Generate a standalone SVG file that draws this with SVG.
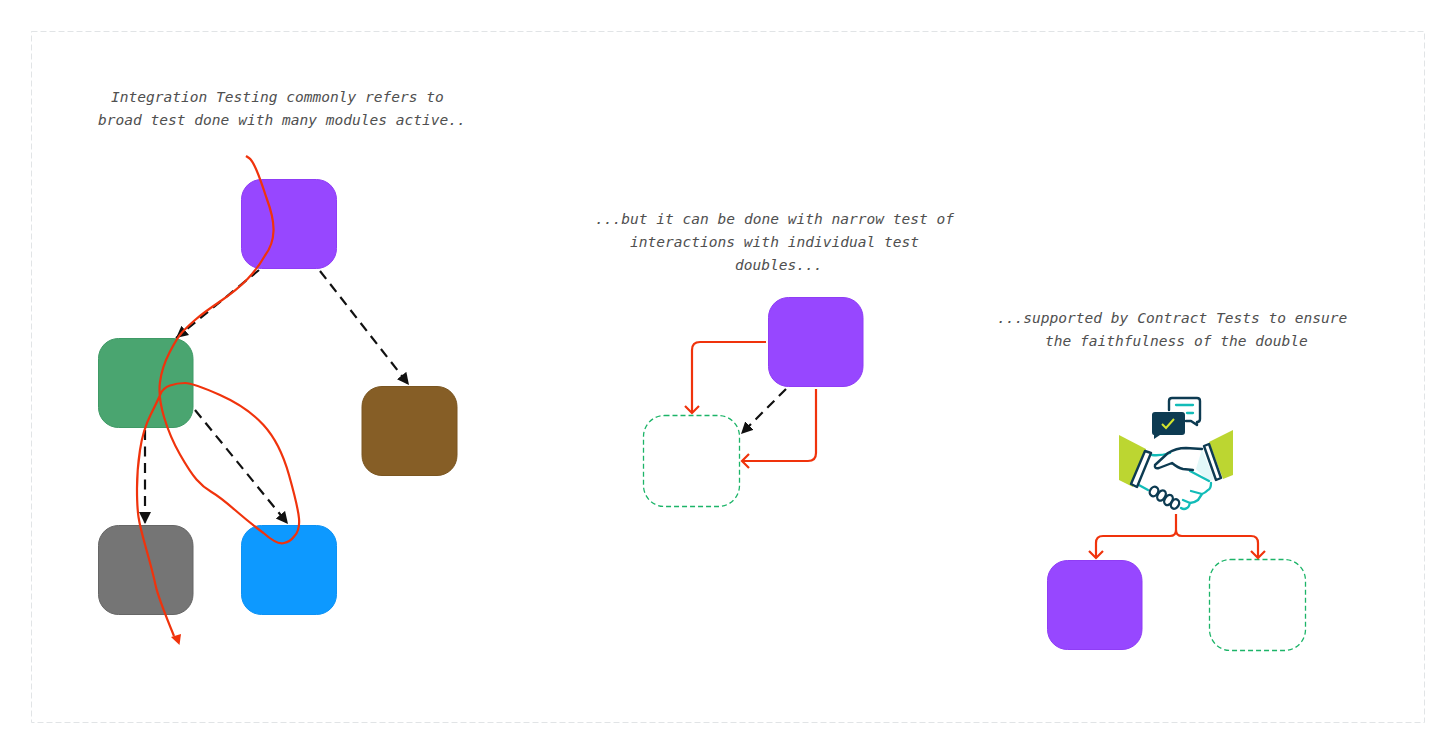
<svg xmlns="http://www.w3.org/2000/svg" width="1456" height="754" viewBox="0 0 1456 754">
<style>
.t{font-family:"DejaVu Sans Mono","Liberation Mono",monospace;font-style:italic;font-size:14.55px;fill:#505050}
.n{stroke-width:1}
.d{fill:#fff;stroke:#1cb468;stroke-width:1.3;stroke-dasharray:5 3}
.b{fill:none;stroke:#111;stroke-width:2.2;stroke-dasharray:10 6.500}
.r{fill:none;stroke:#f0330c;stroke-width:2.200;stroke-linejoin:round}
.nv{fill:none;stroke:#0d3b52;stroke-width:2.400;stroke-linejoin:round;stroke-linecap:round}
.tl{fill:none;stroke:#12bcb8;stroke-width:2.300;stroke-linecap:round;stroke-linejoin:round}
</style>
<defs>
<marker id="ab" markerUnits="userSpaceOnUse" markerWidth="14" markerHeight="14" refX="12" refY="7" orient="auto"><path d="M0 1L12 7L0 13Z" fill="#111"/></marker>
<marker id="ao" markerUnits="userSpaceOnUse" markerWidth="12" markerHeight="16" refX="8" refY="8" orient="auto"><path d="M1 1L8 8L1 15" fill="none" stroke="#f0330c" stroke-width="2.200"/></marker>
</defs>
<rect width="1456" height="754" fill="#fff"/>
<rect x="31.500" y="31.500" width="1393" height="691" fill="none" stroke="#e1e4e6" stroke-width="1" stroke-dasharray="6 3"/>
<g id="label-1"><text class="t" x="111" y="102">Integration Testing commonly refers to</text><text class="t" x="98" y="125">broad test done with many modules active..</text></g>
<g id="label-2"><text class="t" x="595" y="224">...but it can be done with narrow test of</text><text class="t" x="630" y="247">interactions with individual test</text><text class="t" x="735" y="270">doubles...</text></g>
<g id="label-3"><text class="t" x="997" y="323">...supported by Contract Tests to ensure</text><text class="t" x="1045" y="346">the faithfulness of the double</text></g>
<g id="node-purple-a"><rect class="n" x="241.500" y="179.500" width="95" height="89" rx="20" fill="#9747ff" stroke="#8f3df5"/></g>
<g id="node-green"><rect class="n" x="98.500" y="338.500" width="94.500" height="89" rx="20" fill="#4aa570" stroke="#3f9a66"/></g>
<g id="node-brown"><rect class="n" x="362" y="386.500" width="95" height="89" rx="20" fill="#865e26" stroke="#7a5520"/></g>
<g id="node-gray"><rect class="n" x="98.500" y="525.500" width="94.500" height="89" rx="20" fill="#757575" stroke="#666"/></g>
<g id="node-blue"><rect class="n" x="241.500" y="525.500" width="95" height="89" rx="20" fill="#0d99ff" stroke="#0d92f5"/></g>
<g id="node-purple-b"><rect class="n" x="768.500" y="297.500" width="94.500" height="89" rx="20" fill="#9747ff" stroke="#8f3df5"/></g>
<g id="node-double-b"><rect class="d" x="643.500" y="415.500" width="96" height="91" rx="21"/></g>
<g id="node-purple-c"><rect class="n" x="1047.500" y="560.500" width="94.500" height="89" rx="20" fill="#9747ff" stroke="#8f3df5"/></g>
<g id="node-double-c"><rect class="d" x="1209.500" y="559.500" width="96" height="91" rx="21"/></g>
<g id="connectors">
<path class="b" d="M259 270L176 338" marker-end="url(#ab)"/>
<path class="b" d="M320 271L409 385" marker-end="url(#ab)"/>
<path class="b" d="M195 410L288 524" marker-end="url(#ab)"/>
<path class="b" d="M145 430L145 524" marker-end="url(#ab)"/>
<path class="b" d="M786 389L741 434" marker-end="url(#ab)"/>
<path class="r" d="M766 342H700Q692 342 692 350V413" marker-end="url(#ao)"/>
<path class="r" d="M816 389V453Q816 461 808 461H742" marker-end="url(#ao)"/>
<path class="r" d="M1176 514V530Q1176 536 1170 536H1103Q1096 536 1096 543V558" marker-end="url(#ao)"/>
<path class="r" d="M1176 530Q1176 536 1182 536H1251Q1258 536 1258 543V558" marker-end="url(#ao)"/>
<path class="r" d="M246 156L249 158Q252 160 256 169Q260 178 266.500 198Q274 218 273.500 231Q273 245 265 255.500Q258 268 247.500 279Q237 290 220 301.500Q203 313 195 320Q187 327 182 332.500Q177 338 169.500 352.500Q162 367 160 382Q158 397 164 417Q170 437 180 454.500Q190 472 196.500 479.500Q203 487 211.500 492Q220 497 235 510Q250 523 263.500 533Q277 545 284 543Q290 542 294.500 536Q300 530 299 518.500Q298 507 289 475Q280 443 263.500 425Q247 407 220 395Q193 383 185 383Q177 383 170 385.500Q163 388 160.500 394Q158 400 150.500 415Q143 430 140 450Q137 470 137 488.500Q137 507 138.500 517Q140 527 146.500 550Q153 573 155.500 585Q158 597 174 636"/>
<path d="M171 637L181 634L179.500 645Z" fill="#f0330c"/>
</g>
<g id="handshake-icon">
<path d="M1119 435L1146 449L1133 487L1119 480Z" fill="#bcd631"/>
<path d="M1233 430L1209 442L1223 479L1233 475Z" fill="#bcd631"/>
<path d="M1202 449L1196 469L1209 482L1214 479Z" fill="#e2f8f9"/>
<path class="tl" d="M1152 455Q1160 456 1170 453M1190 471L1209 481M1137 484L1148 490"/>
<path class="tl" d="M1211 483Q1211 489 1208 490Q1205 493 1202 494Q1200 497 1198 500Q1194 503 1190 503Q1189 507 1187 508Q1184 510 1181 508M1191 491L1202 494M1183 500L1190 503"/>
<path class="nv" d="M1202 449L1186 448Q1176 448 1168 453L1155 465Q1154 469 1159 468L1172 463Q1178 468 1183 469L1193 470"/>
<path d="M1145 451L1151 453L1137 487L1131 484Z" fill="#fff" stroke="#0d3b52" stroke-width="2.400" stroke-linejoin="round"/>
<path d="M1204 446L1209 444L1221 478L1216 480Z" fill="#fff" stroke="#0d3b52" stroke-width="2.400" stroke-linejoin="round"/>
<g fill="#fff" stroke="#0d3b52" stroke-width="2.400">
<ellipse cx="1154" cy="491.500" rx="4" ry="5" transform="rotate(30 1154 491.500)"/>
<ellipse cx="1161.500" cy="495.500" rx="3.800" ry="5.500" transform="rotate(30 1161.500 495.500)"/>
<ellipse cx="1168.500" cy="500" rx="3.800" ry="5.500" transform="rotate(30 1168.500 500)"/>
<ellipse cx="1175" cy="504" rx="3.800" ry="5" transform="rotate(30 1175 504)"/>
</g>
<path class="nv" d="M1169 410V401Q1169 398 1172 398H1197Q1200 398 1200 401V419Q1200 422 1197 422V425L1191 421H1186"/>
<path class="tl" d="M1176 405H1193M1187 413H1193"/>
<path d="M1155 412H1182Q1185 412 1185 415V432Q1185 435 1182 435H1160L1154 439V435Q1152 435 1152 432V415Q1152 412 1155 412Z" fill="#0d3b52"/>
<path d="M1162 424L1166 428L1174 419" fill="none" stroke="#d3e62e" stroke-width="2"/>
</g>
</svg>
